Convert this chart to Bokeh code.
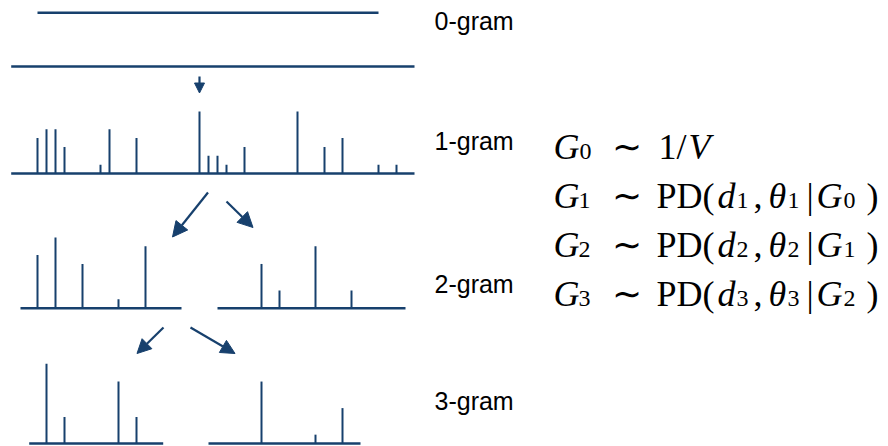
from bokeh.plotting import figure
from bokeh.models import ColumnDataSource, Range1d, Arrow, NormalHead
from bokeh.core.properties import value
from bokeh.embed import file_html
from bokeh.resources import INLINE

# ---------------- data ----------------
# spike positions (word index positions along the vocabulary axis) and counts
uni_pos = [37, 46, 55, 64, 100, 109, 136, 199, 208, 217, 226, 244, 297, 324, 342, 378, 396]
uni_cnt = [4, 5, 5, 3, 1, 5, 4, 7, 2, 2, 1, 3, 7, 3, 4, 1, 1]

bi_left_pos = [37, 55, 82, 118, 145]
bi_left_cnt = [6, 8, 5, 1, 7]
bi_right_pos = [261, 279, 315, 351]
bi_right_cnt = [5, 2, 7, 2]

tri_left_pos = [46, 64, 118, 136]
tri_left_cnt = [9, 3, 7, 3]
tri_right_pos = [261, 315, 342]
tri_right_cnt = [7, 1, 4]

level_labels = ["0-gram", "1-gram", "2-gram", "3-gram"]

formula_rows = [
    [("G", "it"), ("0", "sub"), ("\u223c", "rm"), ("1", "rm"), ("/", "rm"), ("V", "it")],
    [("G", "it"), ("1", "sub"), ("\u223c", "rm"), ("PD(", "rm"), ("d", "it"), ("1", "sub"), (",", "rm"),
     ("\u03b8", "it"), ("1", "sub"), ("|", "rm"), ("G", "it"), ("0", "sub"), (")", "rm")],
    [("G", "it"), ("2", "sub"), ("\u223c", "rm"), ("PD(", "rm"), ("d", "it"), ("2", "sub"), (",", "rm"),
     ("\u03b8", "it"), ("2", "sub"), ("|", "rm"), ("G", "it"), ("1", "sub"), (")", "rm")],
    [("G", "it"), ("3", "sub"), ("\u223c", "rm"), ("PD(", "rm"), ("d", "it"), ("3", "sub"), (",", "rm"),
     ("\u03b8", "it"), ("3", "sub"), ("|", "rm"), ("G", "it"), ("2", "sub"), (")", "rm")],
]

# ---------------- layout (pixel space) ----------------
W, H = 888, 446
COLOR = "#17406D"
UNIT = 8.85  # px per count

p = figure(width=W, height=H, x_range=Range1d(0, W), y_range=Range1d(H, 0),
           output_backend="svg", toolbar_location=None, min_border=0)
p.axis.visible = False
p.grid.visible = False
p.outline_line_color = None
p.background_fill_color = "white"
p.border_fill_color = "white"

# baselines: (x0, x1, y)
baselines = [
    (37, 378, 12.3),     # 0-gram
    (10.7, 414, 66),     # G0 uniform
    (10.7, 414, 173),    # 1-gram
    (20, 181, 307.7),    # 2-gram left
    (217, 405, 307.7),   # 2-gram right
    (28.7, 162.7, 443),  # 3-gram left
    (208, 360, 443),     # 3-gram right
]
p.segment(x0=[b[0] for b in baselines], x1=[b[1] for b in baselines],
          y0=[b[2] for b in baselines], y1=[b[2] for b in baselines],
          line_color=COLOR, line_width=2.5)

panels = [
    (uni_pos, uni_cnt, 173),
    (bi_left_pos, bi_left_cnt, 307.7),
    (bi_right_pos, bi_right_cnt, 307.7),
    (tri_left_pos, tri_left_cnt, 443),
    (tri_right_pos, tri_right_cnt, 443),
]
for pos, cnt, base in panels:
    src = ColumnDataSource(dict(x=pos, y0=[base] * len(pos), y1=[base - c * UNIT for c in cnt]))
    p.segment(x0="x", x1="x", y0="y0", y1="y1", source=src, line_color=COLOR, line_width=2)

# arrows
arrows = [
    ((199, 76), (199, 92.5), 10),
    ((207.5, 192), (172, 236.5), 15),
    ((226, 201), (252.5, 227), 15),
    ((163, 327), (136.5, 353), 14),
    ((190, 327), (234.5, 353), 14),
]
for (xs, ys), (xe, ye), sz in arrows:
    p.add_layout(Arrow(end=NormalHead(size=sz, fill_color=COLOR, line_color=COLOR),
                       x_start=xs, y_start=ys, x_end=xe, y_end=ye,
                       line_color=COLOR, line_width=2.2))

# level labels
label_y = [20.5, 140.5, 283.5, 400.5]
p.text(x=[434] * 4, y=label_y, text=level_labels, text_font=value("Liberation Sans"),
       text_font_size="25px", text_color="black", text_baseline="alphabetic", text_align="left")

# formulas
row_base = [146, 195, 244, 293]
x_row0 = [553, 579, 611, 658, 676, 688]
x_rowk = [553, 578, 611, 656, 717, 736, 753, 768, 787, 806, 816, 843, 866]
cols = {k: dict(x=[], y=[], text=[]) for k in ("it", "rm", "sub")}
for r, row in enumerate(formula_rows):
    xs = x_row0 if r == 0 else x_rowk
    for (t, kind), x in zip(row, xs):
        cols[kind]["x"].append(x)
        cols[kind]["y"].append(row_base[r] + (5 if kind == "sub" else 0))
        cols[kind]["text"].append(t)

p.text(x="x", y="y", text="text", source=ColumnDataSource(cols["it"]),
       text_font=value("Liberation Serif"), text_font_style="italic", text_font_size="36px",
       text_color="black", text_baseline="alphabetic", text_align="left")
p.text(x="x", y="y", text="text", source=ColumnDataSource(cols["rm"]),
       text_font=value("Liberation Serif"), text_font_size="36px",
       text_color="black", text_baseline="alphabetic", text_align="left")
p.text(x="x", y="y", text="text", source=ColumnDataSource(cols["sub"]),
       text_font=value("Liberation Serif"), text_font_size="24px",
       text_color="black", text_baseline="alphabetic", text_align="left")

open("out.html", "w").write(file_html(p, INLINE))
